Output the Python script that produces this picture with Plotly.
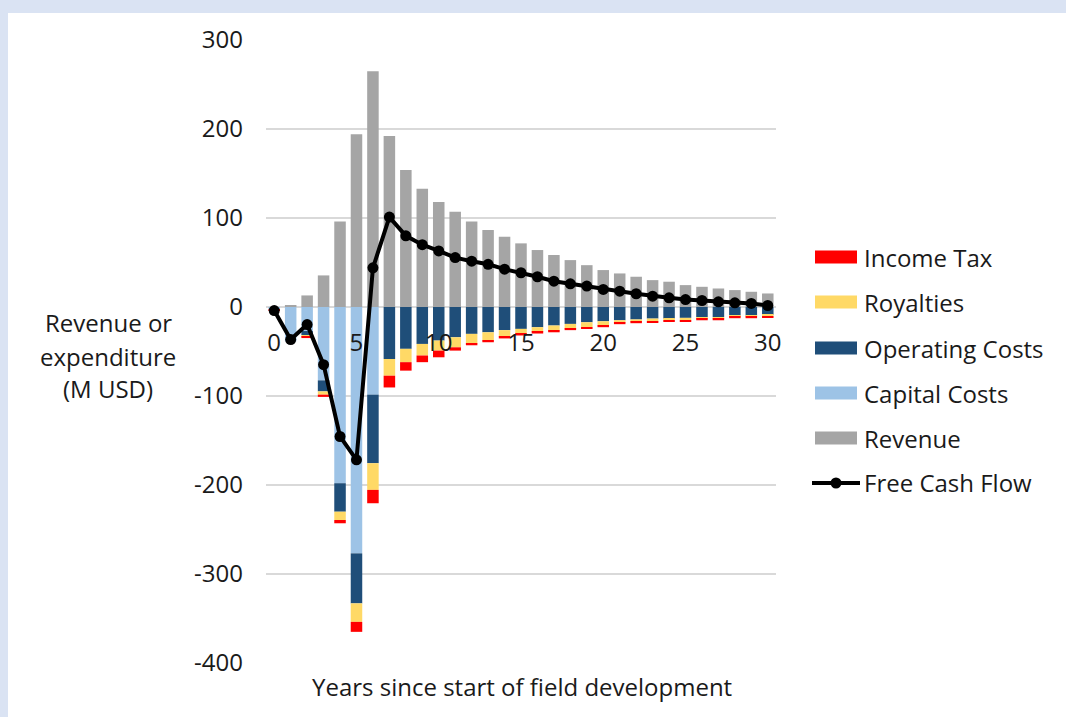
import plotly.graph_objects as go

# Field economics by year since start of development (M USD)
years = list(range(31))

revenue = [0, 2, 13, 35.5, 96, 194, 265, 192, 154, 133, 118, 107, 96, 86.5, 79,
           71.5, 64, 58.4, 52.7, 47, 41.5, 37.7, 34, 30.2, 28.4, 24.6, 22.7, 20.8,
           19, 17.1, 15.2]

capital_costs = [2.5, 38.5, 27, 82.4, 198, 276.8, 98.5] + [0] * 24

operating_costs = [0, 0, 4.5, 12.4, 32, 56.2, 77, 58.4, 47, 41.5, 37.7, 34, 30.2,
                   28.4, 26, 24.6, 22.7, 20.8, 19, 17.1, 16, 14.9, 14, 13, 13, 12.2,
                   11.4, 11.4, 9.6, 9.6, 8.8]

royalties = [0, 0, 1.5, 3.7, 9.3, 20.8, 30, 18.8, 15, 13, 11.3, 11.3, 10.8, 9.3,
             7.5, 5.6, 5.3, 5.7, 5.6, 5.6, 4.8, 2.9, 2.6, 3.2, 1.9, 3, 1.9, 1.6,
             1.5, 1.5, 1.5]

income_tax = [1.5, 0, 1.9, 2.5, 3.7, 11.2, 15, 13.2, 9.5, 7.5, 7.5, 3.7, 2, 1.9,
              1.8, 1.8, 1.8, 1.9, 1.4, 1.5, 1.9, 1.5, 1.6, 1.6, 1.4, 1.4, 1.6, 1.9,
              1.5, 1.5, 1.7]

free_cash_flow = [-4, -36.6, -19.7, -64.8, -145.5, -171.7, 44, 101, 80, 70, 63,
                  55.5, 51.5, 48, 42.5, 38.5, 34, 29, 26, 23.5, 19.7, 17.8, 14.9,
                  12.2, 10.3, 8.4, 7.3, 5.8, 4.7, 4, 1.7]

x_ticks = [0, 5, 10, 15, 20, 25, 30]
y_ticks = [300, 200, 100, 0, -100, -200, -300, -400]

series_names = ["Income Tax", "Royalties", "Operating Costs", "Capital Costs",
                "Revenue", "Free Cash Flow"]
colors = {
    "Revenue": "#a5a5a5",
    "Capital Costs": "#9dc3e6",
    "Operating Costs": "#1f4e79",
    "Royalties": "#ffd966",
    "Income Tax": "#ff0000",
}

FONT = "Open Sans"
TXT = "#1a1a1a"
FS = 24

fig = go.Figure()

# positive stack (revenue), then costs stacked downward from zero
fig.add_trace(go.Bar(x=years, y=revenue, name="Revenue",
                     marker=dict(color=colors["Revenue"], line_width=0)))
fig.add_trace(go.Bar(x=years, y=[-v for v in capital_costs], name="Capital Costs",
                     marker=dict(color=colors["Capital Costs"], line_width=0)))
fig.add_trace(go.Bar(x=years, y=[-v for v in operating_costs], name="Operating Costs",
                     marker=dict(color=colors["Operating Costs"], line_width=0)))
fig.add_trace(go.Bar(x=years, y=[-v for v in royalties], name="Royalties",
                     marker=dict(color=colors["Royalties"], line_width=0)))
fig.add_trace(go.Bar(x=years, y=[-v for v in income_tax], name="Income Tax",
                     marker=dict(color=colors["Income Tax"], line_width=0)))
fig.add_trace(go.Scatter(x=years, y=free_cash_flow, name="Free Cash Flow",
                         mode="lines+markers",
                         line=dict(color="black", width=4),
                         marker=dict(color="black", size=11)))

# plot area geometry in pixels (for paper-coordinate decorations)
W, H = 1066, 717
L, R, T, B = 266, 290, 40, 54
pw, ph = W - L - R, H - T - B


def px_x(x):
    return (x - L) / pw


def px_y(y):
    return (H - B - y) / ph


shapes = [
    # light blue frame strips
    dict(type="rect", xref="paper", yref="paper", x0=px_x(0), x1=px_x(W),
         y0=px_y(13), y1=px_y(0), fillcolor="#dae3f3", line_width=0, layer="below"),
    dict(type="rect", xref="paper", yref="paper", x0=px_x(0), x1=px_x(8),
         y0=px_y(H), y1=px_y(0), fillcolor="#dae3f3", line_width=0, layer="below"),
]

annotations = []

# y-axis title, three centred lines
for text, yc in [("Revenue or", 323), ("expenditure", 356), ("(M USD)", 388)]:
    annotations.append(dict(text=text, xref="paper", yref="paper", x=px_x(108),
                            y=px_y(yc), xanchor="center", yanchor="middle",
                            showarrow=False, font=dict(family=FONT, size=FS, color=TXT)))

# x-axis title
annotations.append(dict(text="Years since start of field development", xref="paper",
                        yref="paper", x=px_x(522), y=px_y(686), xanchor="center",
                        yanchor="middle", showarrow=False,
                        font=dict(family=FONT, size=FS, color=TXT)))

# legend
row_y = [257, 302, 348, 393, 438, 483]
for name, yc in zip(series_names, row_y):
    if name == "Free Cash Flow":
        shapes.append(dict(type="line", xref="paper", yref="paper", x0=px_x(812),
                           x1=px_x(860), y0=px_y(yc), y1=px_y(yc),
                           line=dict(color="black", width=4)))
        shapes.append(dict(type="circle", xref="paper", yref="paper",
                           x0=px_x(830.5), x1=px_x(841.5), y0=px_y(yc - 5.5),
                           y1=px_y(yc + 5.5), fillcolor="black", line_width=0))
    else:
        shapes.append(dict(type="rect", xref="paper", yref="paper", x0=px_x(815),
                           x1=px_x(857), y0=px_y(yc + 6.5), y1=px_y(yc - 6.5),
                           fillcolor=colors[name], line_width=0))
    annotations.append(dict(text=name, xref="paper", yref="paper", x=px_x(862),
                            y=px_y(yc), xanchor="left", yanchor="middle",
                            showarrow=False, font=dict(family=FONT, size=FS, color=TXT)))

fig.update_layout(
    width=W, height=H,
    margin=dict(l=L, r=R, t=T, b=B),
    paper_bgcolor="white", plot_bgcolor="white",
    barmode="relative", bargap=0.3,
    showlegend=False,
    font=dict(family=FONT, size=FS, color=TXT),
    shapes=shapes, annotations=annotations,
)

fig.update_xaxes(
    range=[-0.5, 30.5], tickmode="array", tickvals=x_ticks,
    ticktext=[str(v) for v in x_ticks],
    anchor="free", position=400 / 700,
    showgrid=False, zeroline=False, showline=False, ticks="",
    ticklabelstandoff=19,
    tickfont=dict(family=FONT, size=FS, color=TXT),
)
fig.update_yaxes(
    range=[-400, 300], tickmode="array", tickvals=y_ticks,
    ticktext=[str(v) for v in y_ticks],
    showgrid=True, gridcolor="#d9d9d9", gridwidth=1.5,
    zeroline=True, zerolinecolor="#d9d9d9", zerolinewidth=1.5,
    showline=False, ticks="", ticklabelstandoff=22,
    tickfont=dict(family=FONT, size=FS, color=TXT),
)

fig.write_html("out.html")
